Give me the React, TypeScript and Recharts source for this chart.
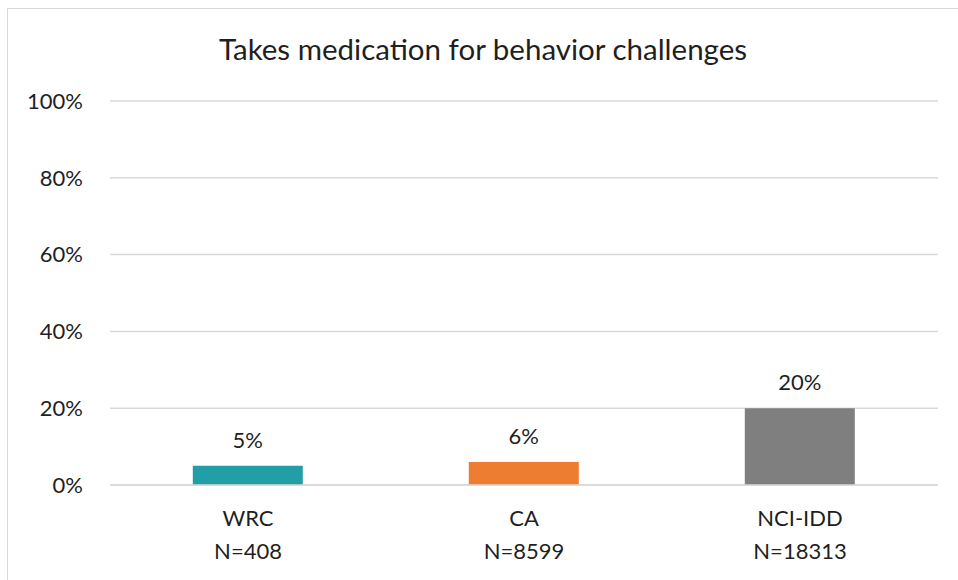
import { BarChart, Bar, XAxis, YAxis, CartesianGrid, LabelList, Cell } from "recharts";

const groups = ["WRC", "CA", "NCI-IDD"];
const sampleSizes = [408, 8599, 18313];
const percents = [5, 6, 20];
const barColors = ["#229FA6", "#ED7D31", "#7F7F7F"];
const yTicks = [0, 20, 40, 60, 80, 100];

const data = groups.map((g, i) => ({ group: g, n: sampleSizes[i], pct: percents[i] }));

const FONT = "Lato, 'Open Sans', sans-serif";
const TEXT = "#1f1f1f";

function GroupTick(props: any) {
  const { x, y, payload } = props;
  const row = data.find((d) => d.group === payload.value);
  return (
    <g transform={`translate(${x},${y})`}>
      <text textAnchor="middle" fill={TEXT} fontFamily={FONT} fontSize={22} y={33}>
        {payload.value}
      </text>
      <text textAnchor="middle" fill={TEXT} fontFamily={FONT} fontSize={22} y={66}>
        N={row ? row.n : ""}
      </text>
    </g>
  );
}

export default function App() {
  return (
    <div style={{ position: "absolute", left: 0, top: 0, width: 958, height: 580, background: "#fff" }}>
      <div
        style={{
          position: "absolute",
          left: 7,
          top: 8,
          width: 970,
          height: 600,
          borderLeft: "1.5px solid #d9d9d9",
          borderTop: "1.5px solid #d9d9d9",
        }}
      />
      <div
        style={{
          position: "absolute",
          left: 4,
          top: 31,
          width: 958,
          textAlign: "center",
          fontFamily: FONT,
          fontSize: 29.5,
          color: TEXT,
        }}
      >
        Takes medication for behavior challenges
      </div>
      <div style={{ position: "absolute", left: 0, top: 0 }}>
        <BarChart
          width={958}
          height={580}
          data={data}
          margin={{ top: 101, right: 20, bottom: 0, left: 0 }}
          barCategoryGap="30%"
        >
          <CartesianGrid vertical={false} stroke="#d9d9d9" strokeWidth={1.5} />
          <XAxis
            dataKey="group"
            axisLine={{ stroke: "#d9d9d9", strokeWidth: 1.5 }}
            tickLine={false}
            tick={<GroupTick />}
            interval={0}
            height={95}
          />
          <YAxis
            width={110}
            domain={[0, 100]}
            ticks={yTicks}
            axisLine={false}
            tickLine={false}
            tickMargin={21}
            tickFormatter={(v: number) => `${v}%`}
            tick={{ fill: TEXT, fontFamily: FONT, fontSize: 22 }}
          />
          <Bar dataKey="pct" isAnimationActive={false}>
            {data.map((d, i) => (
              <Cell key={d.group} fill={barColors[i]} />
            ))}
            <LabelList
              dataKey="pct"
              position="top"
              offset={18}
              formatter={(v: any) => `${v}%`}
              fill={TEXT}
              fontFamily={FONT}
              fontSize={22}
            />
          </Bar>
        </BarChart>
      </div>
    </div>
  );
}
